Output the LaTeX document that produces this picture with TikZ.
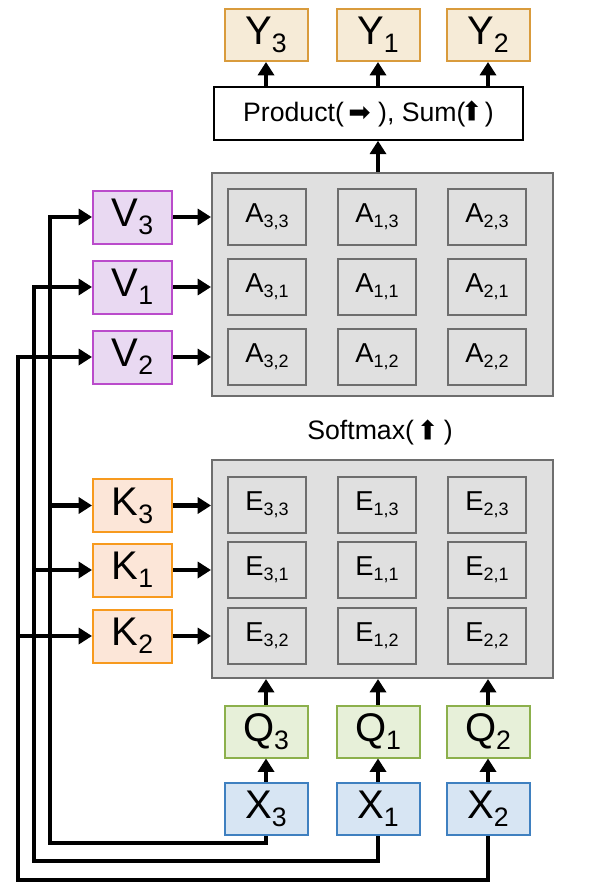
\documentclass[tikz,border=0pt]{standalone}
\usepackage{fontspec}
\usepackage{graphicx}
\setmainfont{Liberation Sans}
\newfontfamily\arrowfont{DejaVu Sans}
\usetikzlibrary{arrows.meta,positioning}
\definecolor{yfill}{HTML}{F6EBD7}
\definecolor{ydraw}{HTML}{D99B3C}
\definecolor{vfill}{HTML}{E9D9F2}
\definecolor{vdraw}{HTML}{BA4BCB}
\definecolor{kfill}{HTML}{FCE6D8}
\definecolor{kdraw}{HTML}{F79A1E}
\definecolor{qfill}{HTML}{E7F0D9}
\definecolor{qdraw}{HTML}{8CB04C}
\definecolor{xfill}{HTML}{D7E5F3}
\definecolor{xdraw}{HTML}{3F80C0}
\definecolor{gridfill}{HTML}{E0E0E0}
\definecolor{griddraw}{HTML}{6E6E6E}
\newcommand{\tok}[2]{#1\raisebox{-6pt}{\fontsize{20}{20}\selectfont #2}}
\newcommand{\ent}[2]{#1\raisebox{-3.5pt}{\fontsize{13.5}{13.5}\selectfont #2}}
\newcommand{\rarr}{{\arrowfont ➡}}
\newcommand{\uarr}{\raisebox{-1pt}{\rotatebox{90}{\arrowfont ➡}}}

\begin{document}
\begin{tikzpicture}[
  x=0.75pt, y=-0.75pt,
  tokbox/.style={draw, line width=1.5pt, minimum width=62.25pt, minimum height=39pt,
                 inner sep=0pt, font=\fontsize{30}{32}\selectfont},
  sidebox/.style={tokbox, minimum width=59.25pt, minimum height=39.75pt},
  gridbox/.style={draw=griddraw, fill=gridfill, line width=1.5pt, minimum width=255.75pt, inner sep=0pt},
  cellbox/.style={draw=griddraw, fill=gridfill, line width=1.8pt, minimum width=58.5pt,
                  minimum height=42pt, inner sep=0pt, font=\fontsize{20.5}{22}\selectfont},
  arr/.style={-{Triangle[length=10pt,width=12pt]}, line width=3.4pt}
]
\useasboundingbox (0,0) rectangle (599,888);

% outputs
\node[tokbox, draw=ydraw, fill=yfill] (y3) at (266,35) {\tok{Y}{3}};
\node[tokbox, draw=ydraw, fill=yfill] (y1) at (378,35) {\tok{Y}{1}};
\node[tokbox, draw=ydraw, fill=yfill] (y2) at (488,35) {\tok{Y}{2}};
\node[draw, fill=white, line width=1.2pt, minimum width=231.75pt, minimum height=39.75pt,
      font=\fontsize{20}{22}\selectfont] (prod) at (368.5,113.5)
      {Product(\,\rarr\ ), Sum(\uarr\,)};

% attention weights
\node[gridbox, minimum height=167.25pt] (abox) at (382.5,284.5) {};
\node[cellbox] (a33) at (267,217) {\ent{A}{3,3}};
\node[cellbox] (a13) at (377,217) {\ent{A}{1,3}};
\node[cellbox] (a23) at (487,217) {\ent{A}{2,3}};
\node[cellbox] (a31) at (267,287) {\ent{A}{3,1}};
\node[cellbox] (a11) at (377,287) {\ent{A}{1,1}};
\node[cellbox] (a21) at (487,287) {\ent{A}{2,1}};
\node[cellbox] (a32) at (267,357) {\ent{A}{3,2}};
\node[cellbox] (a12) at (377,357) {\ent{A}{1,2}};
\node[cellbox] (a22) at (487,357) {\ent{A}{2,2}};

\node[font=\fontsize{20}{22}\selectfont] (soft) at (380,432) {Softmax(\ \uarr\ )};

% scores
\node[gridbox, minimum height=163.5pt] (ebox) at (382.5,569) {};
\node[cellbox] (e33) at (267,505) {\ent{E}{3,3}};
\node[cellbox] (e13) at (377,505) {\ent{E}{1,3}};
\node[cellbox] (e23) at (487,505) {\ent{E}{2,3}};
\node[cellbox] (e31) at (267,570) {\ent{E}{3,1}};
\node[cellbox] (e11) at (377,570) {\ent{E}{1,1}};
\node[cellbox] (e21) at (487,570) {\ent{E}{2,1}};
\node[cellbox] (e32) at (267,636) {\ent{E}{3,2}};
\node[cellbox] (e12) at (377,636) {\ent{E}{1,2}};
\node[cellbox] (e22) at (487,636) {\ent{E}{2,2}};

% values and keys
\node[sidebox, draw=vdraw, fill=vfill] (v3) at (132.5,217) {\tok{V}{3}};
\node[sidebox, draw=vdraw, fill=vfill] (v1) at (132.5,287) {\tok{V}{1}};
\node[sidebox, draw=vdraw, fill=vfill] (v2) at (132.5,357) {\tok{V}{2}};
\node[sidebox, draw=kdraw, fill=kfill] (k3) at (132.5,505.5) {\tok{K}{3}};
\node[sidebox, draw=kdraw, fill=kfill] (k1) at (132.5,570) {\tok{K}{1}};
\node[sidebox, draw=kdraw, fill=kfill] (k2) at (132.5,636) {\tok{K}{2}};

% queries and inputs
\node[tokbox, draw=qdraw, fill=qfill] (q3) at (266,731.5) {\tok{Q}{3}};
\node[tokbox, draw=qdraw, fill=qfill] (q1) at (378,731.5) {\tok{Q}{1}};
\node[tokbox, draw=qdraw, fill=qfill] (q2) at (488,731.5) {\tok{Q}{2}};
\node[tokbox, draw=xdraw, fill=xfill] (x3) at (266,809) {\tok{X}{3}};
\node[tokbox, draw=xdraw, fill=xfill] (x1) at (378,809) {\tok{X}{1}};
\node[tokbox, draw=xdraw, fill=xfill] (x2) at (488,809) {\tok{X}{2}};

\coordinate (b3) at (50,843);
\coordinate (b1) at (34,861);
\coordinate (b2) at (18,880);

\draw[arr] (y3.south |- prod.north) -- (y3.south);
\draw[arr] (y1.south |- prod.north) -- (y1.south);
\draw[arr] (y2.south |- prod.north) -- (y2.south);
\draw[arr] (abox.north -| y1) -- (prod.south -| y1);
\draw[arr] (v3.east) -- (v3.east -| abox.west);
\draw[arr] (v1.east) -- (v1.east -| abox.west);
\draw[arr] (v2.east) -- (v2.east -| abox.west);
\draw[arr] (k3.east) -- (k3.east -| ebox.west);
\draw[arr] (k1.east) -- (k1.east -| ebox.west);
\draw[arr] (k2.east) -- (k2.east -| ebox.west);
\draw[arr] (q3.north) -- (q3.north |- ebox.south);
\draw[arr] (q1.north) -- (q1.north |- ebox.south);
\draw[arr] (q2.north) -- (q2.north |- ebox.south);
\draw[arr] (x3.north) -- (q3.south);
\draw[arr] (x1.north) -- (q1.south);
\draw[arr] (x2.north) -- (q2.south);
\draw[arr] (x3.south) |- (b3) |- (v3.west);
\draw[arr] (x1.south) |- (b1) |- (v1.west);
\draw[arr] (x2.south) |- (b2) |- (v2.west);
\draw[arr] (b3 |- k3) -- (k3.west);
\draw[arr] (b1 |- k1) -- (k1.west);
\draw[arr] (b2 |- k2) -- (k2.west);
\end{tikzpicture}
\end{document}
